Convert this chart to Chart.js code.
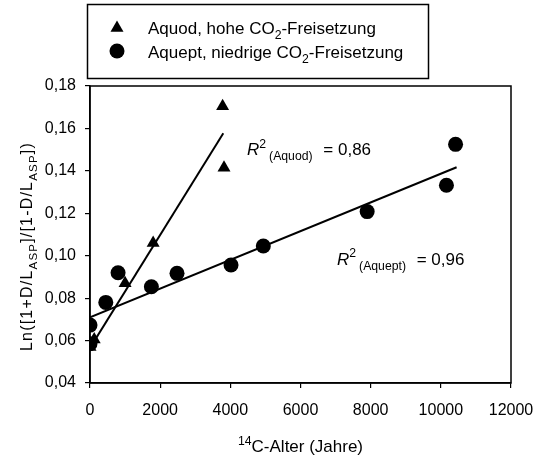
<!DOCTYPE html>
<html>
<head>
<meta charset="utf-8">
<script src="https://cdn.jsdelivr.net/npm/chart.js@4"></script>
<style>
html,body{margin:0;padding:0;background:#fff;}
#wrap{width:536px;height:457px;}
</style>
</head>
<body>
<div id="wrap"><canvas id="c" width="536" height="457"></canvas></div>
<script>
// ---- data ----
const xTickValues = [0, 2000, 4000, 6000, 8000, 10000, 12000];
const xTickLabels = ['0', '2000', '4000', '6000', '8000', '10000', '12000'];
const yTickValues = [0.04, 0.06, 0.08, 0.10, 0.12, 0.14, 0.16, 0.18];
const yTickLabels = ['0,04', '0,06', '0,08', '0,10', '0,12', '0,14', '0,16', '0,18'];

const aquodX = [0, 120, 1000, 1800, 3780, 3820];
const aquodY = [0.057, 0.0605, 0.087, 0.106, 0.1705, 0.1415];

const aqueptX = [0, 0, 450, 800, 1750, 2480, 4020, 4940, 7900, 10160, 10420];
const aqueptY = [0.0585, 0.0673, 0.078, 0.092, 0.0854, 0.0917, 0.0956, 0.1046, 0.1208, 0.1332, 0.1525];

const aquodFitX = [0, 3800];
const aquodFitY = [0.0565, 0.1577];
const aqueptFitX = [0, 10450];
const aqueptFitY = [0.071, 0.1417];

const seriesNames = ['Aquod, hohe CO', 'Aquept, niedrige CO'];
const r2Aquod = '0,86';
const r2Aquept = '0,96';
// anchor (data coords) of the R² annotations
const r2AquodAt = [4475, 0.1475];
const r2AqueptAt = [7040, 0.0958];

const FONT = '"Liberation Sans", Arial, sans-serif';
const toPts = (xs, ys) => xs.map((x, i) => ({x: x, y: ys[i]}));

function drawRich(ctx, x, y, parts, size, align) {
  const measure = [];
  let total = 0;
  for (const p of parts) {
    const mode = p[1] || '';
    const s = (mode === 'sub' || mode === 'sup') ? size * 0.72 : size;
    const f = (mode === 'i' ? 'italic ' : '') + s + 'px ' + FONT;
    ctx.font = f;
    const w = ctx.measureText(p[0]).width + (p[2] || 0);
    measure.push({t: p[0], f: f, w: w, dy: mode === 'sub' ? size * 0.3 : (mode === 'sup' ? -size * 0.42 : 0)});
    total += w;
  }
  let cx = align === 'center' ? x - total / 2 : (align === 'right' ? x - total : x);
  ctx.textAlign = 'left';
  ctx.textBaseline = 'alphabetic';
  for (const m of measure) {
    ctx.font = m.f;
    ctx.fillText(m.t, cx, y + m.dy);
    cx += m.w;
  }
  return total;
}

const decor = {
  id: 'decor',
  afterDraw(chart) {
    const ctx = chart.ctx;
    const a = chart.chartArea;
    const xs = chart.scales.x, ys = chart.scales.y;
    ctx.save();
    ctx.fillStyle = '#000';
    ctx.strokeStyle = '#000';
    // plot frame
    ctx.lineWidth = 1.5;
    ctx.strokeRect(a.left, a.top, a.right - a.left, a.bottom - a.top);

    // legend box
    ctx.lineWidth = 1.5;
    ctx.strokeRect(87.5, 4.5, 341, 74);
    // triangle marker
    const tx = 117, ty = 28, r = 7.5;
    ctx.beginPath();
    ctx.moveTo(tx, ty - r);
    ctx.lineTo(tx + r * 0.866, ty + r * 0.5);
    ctx.lineTo(tx - r * 0.866, ty + r * 0.5);
    ctx.closePath();
    ctx.fill();
    // circle marker
    ctx.beginPath();
    ctx.arc(117, 51, 7.5, 0, Math.PI * 2);
    ctx.fill();
    drawRich(ctx, 148, 34, [[seriesNames[0]], ['2', 'sub'], ['-Freisetzung']], 17, 'left');
    drawRich(ctx, 148, 58, [[seriesNames[1]], ['2', 'sub'], ['-Freisetzung']], 17, 'left');

    // R² labels
    drawRich(ctx, xs.getPixelForValue(r2AquodAt[0]), ys.getPixelForValue(r2AquodAt[1]),
      [['R', 'i'], ['2', 'sup', 3], ['(Aquod)', 'sub', 6], [' = ' + r2Aquod]], 17, 'left');
    drawRich(ctx, xs.getPixelForValue(r2AqueptAt[0]), ys.getPixelForValue(r2AqueptAt[1]),
      [['R', 'i'], ['2', 'sup', 3], ['(Aquept)', 'sub', 6], [' = ' + r2Aquept]], 17, 'left');

    // x axis title
    drawRich(ctx, (a.left + a.right) / 2, 452, [['14', 'sup'], ['C-Alter (Jahre)']], 17, 'center');

    // y axis title
    ctx.translate(32, (a.top + a.bottom) / 2 + 12);
    ctx.rotate(-Math.PI / 2);
    ctx.letterSpacing = '1.2px';
    drawRich(ctx, 0, 0, [['Ln([1+D/L'], ['ASP', 'sub'], [']/[1-D/L'], ['ASP', 'sub'], ['])']], 16, 'center');
    ctx.restore();
  }
};

new Chart(document.getElementById('c'), {
  type: 'scatter',
  data: {
    datasets: [
      {label: 'Aquod', data: toPts(aquodX, aquodY), pointStyle: 'triangle', pointRadius: 7.5,
       backgroundColor: '#000', borderColor: '#000', borderWidth: 0, showLine: false},
      {label: 'Aquept', data: toPts(aqueptX, aqueptY), pointStyle: 'circle', pointRadius: 7.5,
       backgroundColor: '#000', borderColor: '#000', borderWidth: 0, showLine: false},
      {label: 'Fit Aquod', data: toPts(aquodFitX, aquodFitY), showLine: true, pointRadius: 0,
       borderColor: '#000', borderWidth: 2},
      {label: 'Fit Aquept', data: toPts(aqueptFitX, aqueptFitY), showLine: true, pointRadius: 0,
       borderColor: '#000', borderWidth: 2}
    ]
  },
  options: {
    responsive: false,
    animation: false,
    devicePixelRatio: 1,
    layout: {padding: {top: 86, right: 25, left: 0, bottom: 0}},
    plugins: {legend: {display: false}, tooltip: {enabled: false}},
    scales: {
      x: {
        type: 'linear', min: 0, max: 12000,
        afterBuildTicks: s => { s.ticks = xTickValues.map(v => ({value: v})); },
        afterFit: s => { s.height = 74; s.paddingRight = 0; s.paddingLeft = 0; },
        grid: {drawOnChartArea: false, drawTicks: true, tickLength: 5, color: '#000', lineWidth: 1.2},
        border: {display: true, color: '#000', width: 1.5},
        ticks: {color: '#000', font: {family: FONT, size: 16}, padding: 13, maxRotation: 0,
                callback: (v, i) => xTickLabels[i]}
      },
      y: {
        type: 'linear', min: 0.04, max: 0.18,
        afterBuildTicks: s => { s.ticks = yTickValues.map(v => ({value: v})); },
        afterFit: s => { s.width = 90; s.paddingTop = 0; s.paddingBottom = 0; },
        grid: {drawOnChartArea: false, drawTicks: true, tickLength: 5, color: '#000', lineWidth: 1.2},
        border: {display: true, color: '#000', width: 1.5},
        ticks: {color: '#000', font: {family: FONT, size: 16}, padding: 9,
                callback: (v, i) => yTickLabels[i]}
      }
    }
  },
  plugins: [decor]
});
</script>
</body>
</html>
